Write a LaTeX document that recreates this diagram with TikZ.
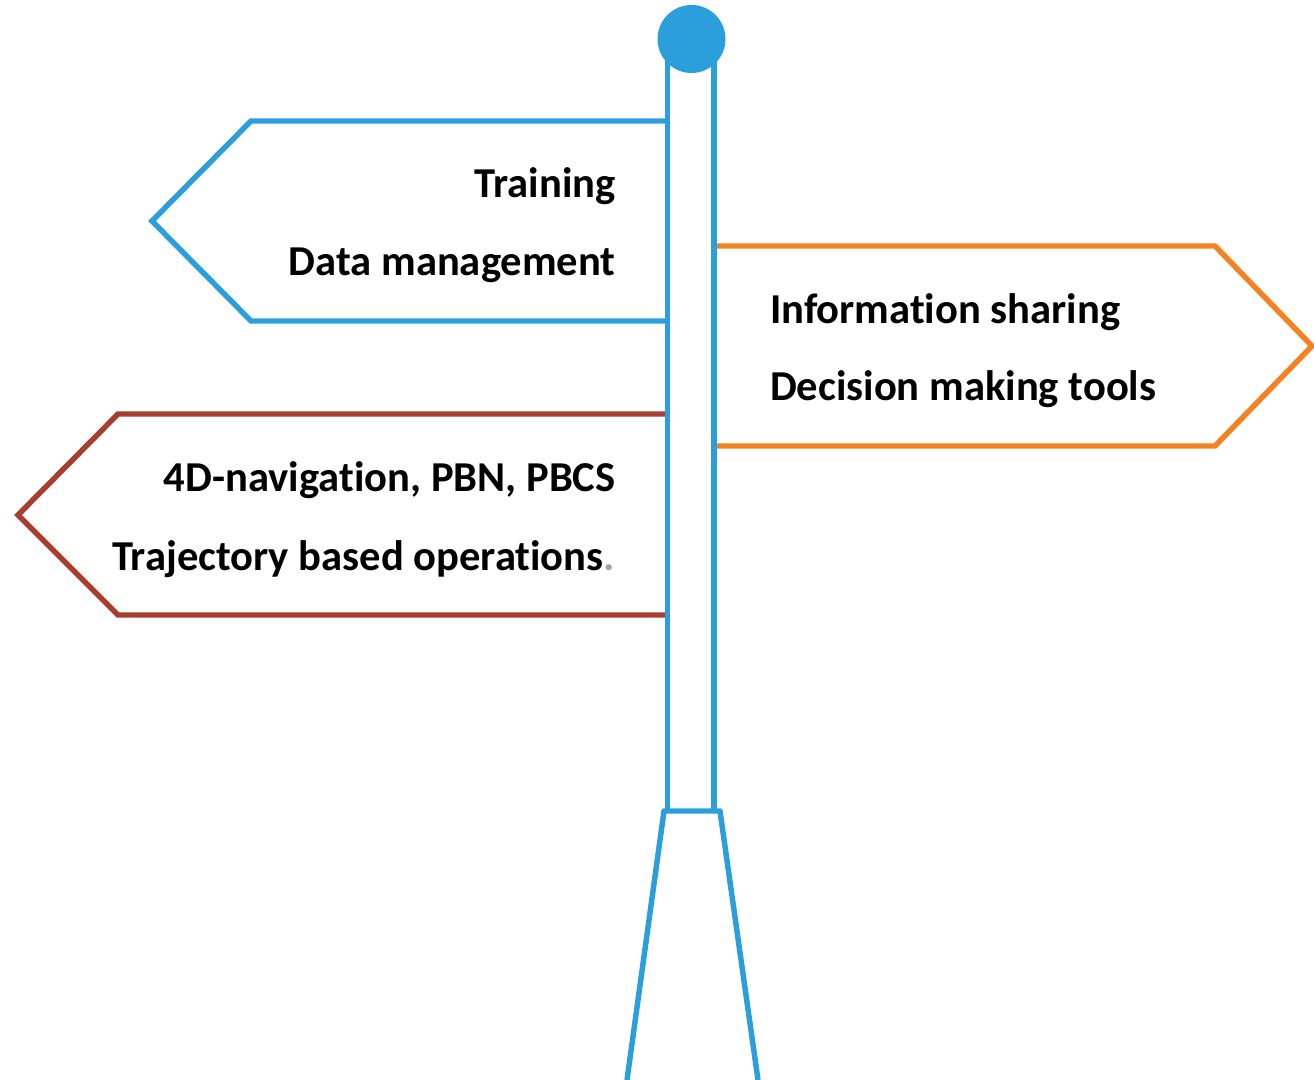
\documentclass[tikz,border=0pt]{standalone}
\usepackage{fontspec}
\setmainfont[RawFeature={-liga}]{Carlito}
\definecolor{cblue}{HTML}{2B9FDC}
\definecolor{corange}{HTML}{F58220}
\definecolor{cred}{HTML}{A63F30}
\definecolor{cgrey}{HTML}{A6A6A6}
\tikzset{
  px/.style={x=0.75pt,y=-0.75pt},
  signline/.style={line width=4.1pt,line join=miter},
  footline/.style={line width=4.1pt,line join=round},
  lab/.style={font=\fontsize{31.95pt}{34pt}\selectfont\bfseries,text=black,inner sep=0pt,outer sep=0pt,anchor=base east},
  labr/.style={lab,anchor=base west}
}
\begin{document}
\begin{tikzpicture}[px]
\useasboundingbox (0,0) rectangle (1314,1080);
\coordinate (p1) at (667.5,121);
\coordinate (p2) at (251,121);
\coordinate (p3) at (152,221);
\coordinate (p4) at (251,321);
\coordinate (p5) at (667.5,321);
\draw[signline,cblue] (p1)--(p2)--(p3)--(p4)--(p5);
\coordinate (o1) at (714,246);
\coordinate (o2) at (1215,246);
\coordinate (o3) at (1312,346);
\coordinate (o4) at (1215,446);
\coordinate (o5) at (714,446);
\draw[signline,corange] (o1)--(o2)--(o3)--(o4)--(o5);
\coordinate (r1) at (667.5,414);
\coordinate (r2) at (118,414);
\coordinate (r3) at (18,515);
\coordinate (r4) at (118,615);
\coordinate (r5) at (667.5,615);
\draw[signline,cred] (r1)--(r2)--(r3)--(r4)--(r5);
\coordinate (pl) at (667.5,60);
\coordinate (pr) at (714,60);
\coordinate (bl) at (667.5,811);
\coordinate (br) at (714,811);
\draw[signline,cblue] (pl)--(bl) (pr)--(br);
\coordinate (fl) at (627,1080);
\coordinate (tl) at (664,811);
\coordinate (tr) at (720,811);
\coordinate (fr) at (758,1080);
\draw[footline,cblue] (fl)--(tl)--(tr)--(fr);
\node[circle,fill=cblue,minimum size=51pt,inner sep=0pt] (knob) at (691.5,39) {};
\node[lab] (t1) at (615.5,198) {Training};
\node[lab] (t2) at (615.5,276) {Data management};
\node[labr] (t3) at (770,324) {Information sharing};
\node[labr] (t4) at (770,401) {Decision making tools};
\node[lab] (t5) at (615.5,492) {4D-navigation, PBN, PBCS};
\node[lab] (t6) at (615,570) {Trajectory based operations\textcolor{cgrey}{.}};
\end{tikzpicture}
\end{document}
